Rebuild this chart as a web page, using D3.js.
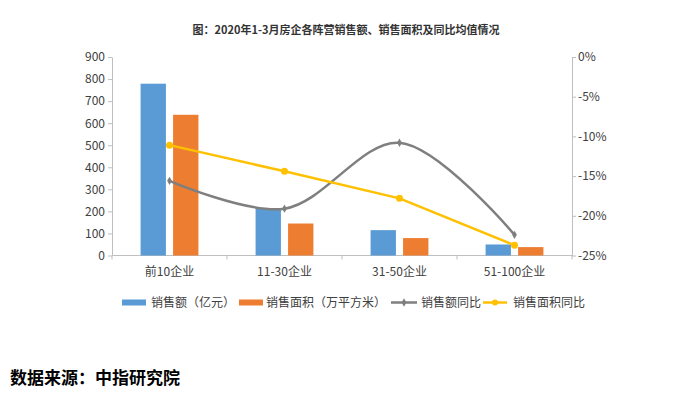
<!DOCTYPE html>
<html>
<head>
<meta charset="utf-8">
<script src="https://cdn.jsdelivr.net/npm/d3@7/dist/d3.min.js"></script>
<style>
  body { margin: 0; background: #fff; }
  text { font-family: "Noto Sans CJK SC", "Noto Sans", sans-serif; }
  .axis text { font-size: 12px; fill: #404040; }
  .axis path, .axis line { stroke: #bfbfbf; }
</style>
</head>
<body>
<svg width="697" height="394"></svg>
<script>
var categories = ['前10企业', '11-30企业', '31-50企业', '51-100企业'];
var salesAmount = [779, 215, 115, 50];      // 销售额（亿元）
var salesArea = [638, 145, 79, 38];         // 销售面积（万平方米）
var amountYoY = [-15.6, -19.1, -10.8, -22.4]; // 销售额同比 %
var areaYoY = [-11.1, -14.4, -17.8, -23.7];   // 销售面积同比 %
var leftTicks = [0, 100, 200, 300, 400, 500, 600, 700, 800, 900];
var rightTicks = [0, -5, -10, -15, -20, -25];

var svg = d3.select('svg');
var plotLeft = 112, plotRight = 572, plotTop = 57, plotBottom = 255.5;

var x0 = d3.scaleBand().domain(categories).range([plotLeft, plotRight]);
var x1 = d3.scaleBand().domain([0, 1]).range([0, x0.bandwidth()])
  .paddingInner(0.22).paddingOuter(0.88);
var yL = d3.scaleLinear().domain([0, 900]).range([plotBottom, plotTop]);
var yR = d3.scaleLinear().domain([-25, 0]).range([plotBottom, plotTop]);

// title
svg.append('text')
  .attr('x', 346).attr('y', 34)
  .attr('text-anchor', 'middle')
  .style('font-size', '11px').style('font-weight', 'bold').style('fill', '#333')
  .text('图：2020年1-3月房企各阵营销售额、销售面积及同比均值情况');

// axes
svg.append('g').attr('class', 'axis')
  .attr('transform', 'translate(' + plotLeft + ',0)')
  .call(d3.axisLeft(yL).tickValues(leftTicks).tickSize(4).tickPadding(3).tickSizeOuter(0));

svg.append('g').attr('class', 'axis')
  .attr('transform', 'translate(' + plotRight + ',0)')
  .call(d3.axisRight(yR).tickValues(rightTicks).tickSize(4).tickPadding(2).tickSizeOuter(0)
    .tickFormat(function(d) { return d + '%'; }));

var xAxis = svg.append('g').attr('class', 'axis');
xAxis.append('line')
  .attr('x1', plotLeft).attr('x2', plotRight)
  .attr('y1', plotBottom).attr('y2', plotBottom);
var bounds = categories.map(function(c) { return x0(c); }).concat([plotRight]);
xAxis.selectAll('line.tick')
  .data(bounds).enter().append('line')
  .attr('class', 'tick')
  .attr('x1', function(d) { return d; }).attr('x2', function(d) { return d; })
  .attr('y1', plotBottom).attr('y2', plotBottom + 4);
xAxis.selectAll('text')
  .data(categories).enter().append('text')
  .attr('x', function(d) { return x0(d) + x0.bandwidth() / 2; })
  .attr('y', 276)
  .attr('text-anchor', 'middle')
  .text(function(d) { return d; });

// bars
var colors = ['#5b9bd5', '#ed7d31'];
[salesAmount, salesArea].forEach(function(series, i) {
  svg.append('g').selectAll('rect')
    .data(series).enter().append('rect')
    .attr('x', function(d, j) { return x0(categories[j]) + x1(i); })
    .attr('width', x1.bandwidth())
    .attr('y', function(d) { return yL(d); })
    .attr('height', function(d) { return plotBottom - yL(d); })
    .attr('fill', colors[i]);
});

// lines
function cx(j) { return x0(categories[j]) + x0.bandwidth() / 2; }

var grayLine = d3.line()
  .x(function(d, j) { return cx(j); })
  .y(function(d) { return yR(d); })
  .curve(d3.curveCatmullRom.alpha(0.5));
svg.append('path').datum(amountYoY)
  .attr('d', grayLine)
  .attr('fill', 'none').attr('stroke', '#7f7f7f').attr('stroke-width', 2.5);
svg.append('g').selectAll('path')
  .data(amountYoY).enter().append('path')
  .attr('d', d3.symbol().type(d3.symbolDiamond).size(20))
  .attr('transform', function(d, j) { return 'translate(' + cx(j) + ',' + yR(d) + ')'; })
  .attr('fill', '#7f7f7f');

var yellowLine = d3.line()
  .x(function(d, j) { return cx(j); })
  .y(function(d) { return yR(d); });
svg.append('path').datum(areaYoY)
  .attr('d', yellowLine)
  .attr('fill', 'none').attr('stroke', '#ffc000').attr('stroke-width', 2.5);
svg.append('g').selectAll('circle')
  .data(areaYoY).enter().append('circle')
  .attr('cx', function(d, j) { return cx(j); })
  .attr('cy', function(d) { return yR(d); })
  .attr('r', 3.5)
  .attr('fill', '#ffc000');

// legend
var legend = svg.append('g').style('font-size', '12px').style('fill', '#404040');
var ly = 302.5;
legend.append('rect').attr('x', 122).attr('y', ly - 3).attr('width', 24).attr('height', 6).attr('fill', colors[0]);
legend.append('text').attr('x', 151).attr('y', ly + 4).style('fill', '#404040').text('销售额（亿元）');
legend.append('rect').attr('x', 239).attr('y', ly - 3).attr('width', 24).attr('height', 6).attr('fill', colors[1]);
legend.append('text').attr('x', 266).attr('y', ly + 4).style('fill', '#404040').text('销售面积（万平方米）');
legend.append('line').attr('x1', 391).attr('x2', 417).attr('y1', ly).attr('y2', ly)
  .attr('stroke', '#7f7f7f').attr('stroke-width', 2.5);
legend.append('path').attr('d', d3.symbol().type(d3.symbolDiamond).size(20))
  .attr('transform', 'translate(404,' + ly + ')').attr('fill', '#7f7f7f');
legend.append('text').attr('x', 421).attr('y', ly + 4).style('fill', '#404040').text('销售额同比');
legend.append('line').attr('x1', 483).attr('x2', 507).attr('y1', ly).attr('y2', ly)
  .attr('stroke', '#ffc000').attr('stroke-width', 2.5);
legend.append('circle').attr('cx', 495).attr('cy', ly).attr('r', 3).attr('fill', '#ffc000');
legend.append('text').attr('x', 513).attr('y', ly + 4).style('fill', '#404040').text('销售面积同比');

// source
svg.append('text')
  .attr('x', 10).attr('y', 384)
  .style('font-size', '17px').style('font-weight', 'bold').style('fill', '#000')
  .text('数据来源：中指研究院');
</script>
</body>
</html>
